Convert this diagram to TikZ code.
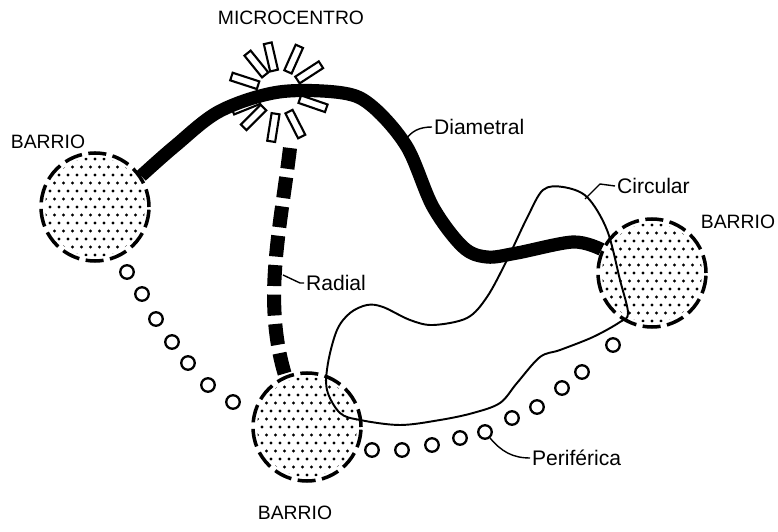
\documentclass[tikz,border=0pt]{standalone}
\usepackage{fontspec}
\setmainfont{Liberation Sans}
\usetikzlibrary{calc}

\begin{document}
\begin{tikzpicture}[
    barrio/.style={circle, minimum size=2.16cm, draw, line width=2pt, dash pattern=on 0.36cm off 0.13cm},
    ray/.style={rectangle, draw, fill=white, line width=1.2pt, minimum width=0.56cm, minimum height=0.16cm, inner sep=0pt},
    pcirc/.style={circle, draw, line width=1.3pt, minimum size=0.27cm, inner sep=0pt},
    diam/.style={line width=7.5pt},
    radial/.style={line width=8pt, dash pattern=on 0.42cm off 0.17cm},
    circ/.style={line width=1.1pt},
    lead/.style={line width=0.8pt},
    lbl/.style={font=\fontsize{11}{13}\selectfont, inner sep=1pt},
    tag/.style={font=\fontsize{12}{14}\selectfont, inner sep=1pt, anchor=west}
  ]
  \useasboundingbox (0,0) rectangle (15.56,10.62);

  % Barrios
  \node[barrio] (b-left)   at (1.90,6.48)  {};
  \node[barrio] (b-bottom) at (6.14,2.08)  {};
  \node[barrio] (b-right)  at (13.04,5.16) {};
  \foreach \b in {b-left,b-bottom,b-right} {
    \begin{scope}
      \clip (\b.center) circle (1.0cm);
      \foreach \i in {-6,...,6}
        \foreach \j in {-7,...,7}
          \fill ($(\b.center)+({\i*0.18+0.09*mod(\j+8,2)}, \j*0.16)$) circle (0.033);
    \end{scope}
  }
  \node[lbl] (l-left)   at (0.96,7.78)  {BARRIO};
  \node[lbl] (l-bottom) at (5.90,0.36)  {BARRIO};
  \node[lbl] (l-right)  at (14.76,6.18) {BARRIO};

  % Microcentro
  \coordinate (mc) at (5.58,8.78);
  \node[lbl] (l-mc) at (5.82,10.26) {MICROCENTRO};
  \foreach \a in {33,66,103,129,162,202,225,261,297,341}
    \node[ray, rotate=\a] at ($(mc)+(\a:0.72)$) {};

  % Periferica
  \foreach \p [count=\k] in {(2.54,5.18),(2.84,4.74),(3.12,4.24),(3.44,3.78),(3.76,3.36),(4.16,2.92),(4.66,2.58)}
    \node[pcirc] (p\k) at \p {};
  \foreach \p [count=\k] in {(7.44,1.62),(8.04,1.62),(8.64,1.72),(9.20,1.86),(9.70,1.98),(10.24,2.26),(10.74,2.48),(11.24,2.86),(11.64,3.18),(12.26,3.72)}
    \node[pcirc] (q\k) at \p {};

  % Circular
  \draw[circ] plot[smooth cycle, tension=0.55] coordinates {
    (11.26,6.88) (11.74,6.68) (12.14,6.02) (12.40,5.02) (12.56,4.36)
    (12.40,4.18) (11.86,3.88) (11.20,3.62) (10.80,3.48) (10.34,2.96)
    (10.00,2.56) (9.46,2.36) (8.80,2.22) (8.00,2.12) (7.20,2.22)
    (6.80,2.36) (6.54,2.82) (6.56,3.36) (6.74,4.02) (7.00,4.36)
    (7.34,4.52) (7.66,4.48) (8.20,4.22) (8.66,4.12) (9.34,4.26)
    (9.74,4.68) (10.14,5.42) (10.54,6.26) (10.86,6.82)};

  % Diametral
  \draw[diam] plot[smooth, tension=0.55] coordinates {
    (b-left.34) (3.50,7.70) (4.40,8.40) (mc) (6.86,8.76) (7.46,8.48)
    (8.14,7.68) (8.66,6.48) (9.26,5.68) (9.74,5.48) (10.34,5.56)
    (11.46,5.78) (b-right.155)};

  % Radial
  \coordinate (rad-top) at (5.80,7.66);
  \draw[radial] (rad-top) .. controls (5.60,6.0) and (5.25,4.6) .. (b-bottom.113);

  % labels
  \node[tag] (l-diam) at (8.64,8.08) {Diametral};
  \coordinate (diam-pt) at (8.10,7.80);
  \draw[lead] (diam-pt) to[out=60, in=180] (l-diam.west);

  \node[tag] (l-rad) at (6.08,4.96) {Radial};
  \coordinate (rad-pt) at (5.66,5.12);
  \draw[lead] (rad-pt) -- (6.00,4.96) -- (l-rad.west);

  \node[tag] (l-circ) at (12.30,6.90) {Circular};
  \coordinate (circ-pt) at (11.70,6.64);
  \draw[lead] (circ-pt) -- (12.00,6.94) -- (l-circ.west);

  \node[tag] (l-per) at (10.60,1.46) {Periférica};
  \draw[lead] (q5.-50) to[out=-50, in=180] (l-per.west);
\end{tikzpicture}
\end{document}
